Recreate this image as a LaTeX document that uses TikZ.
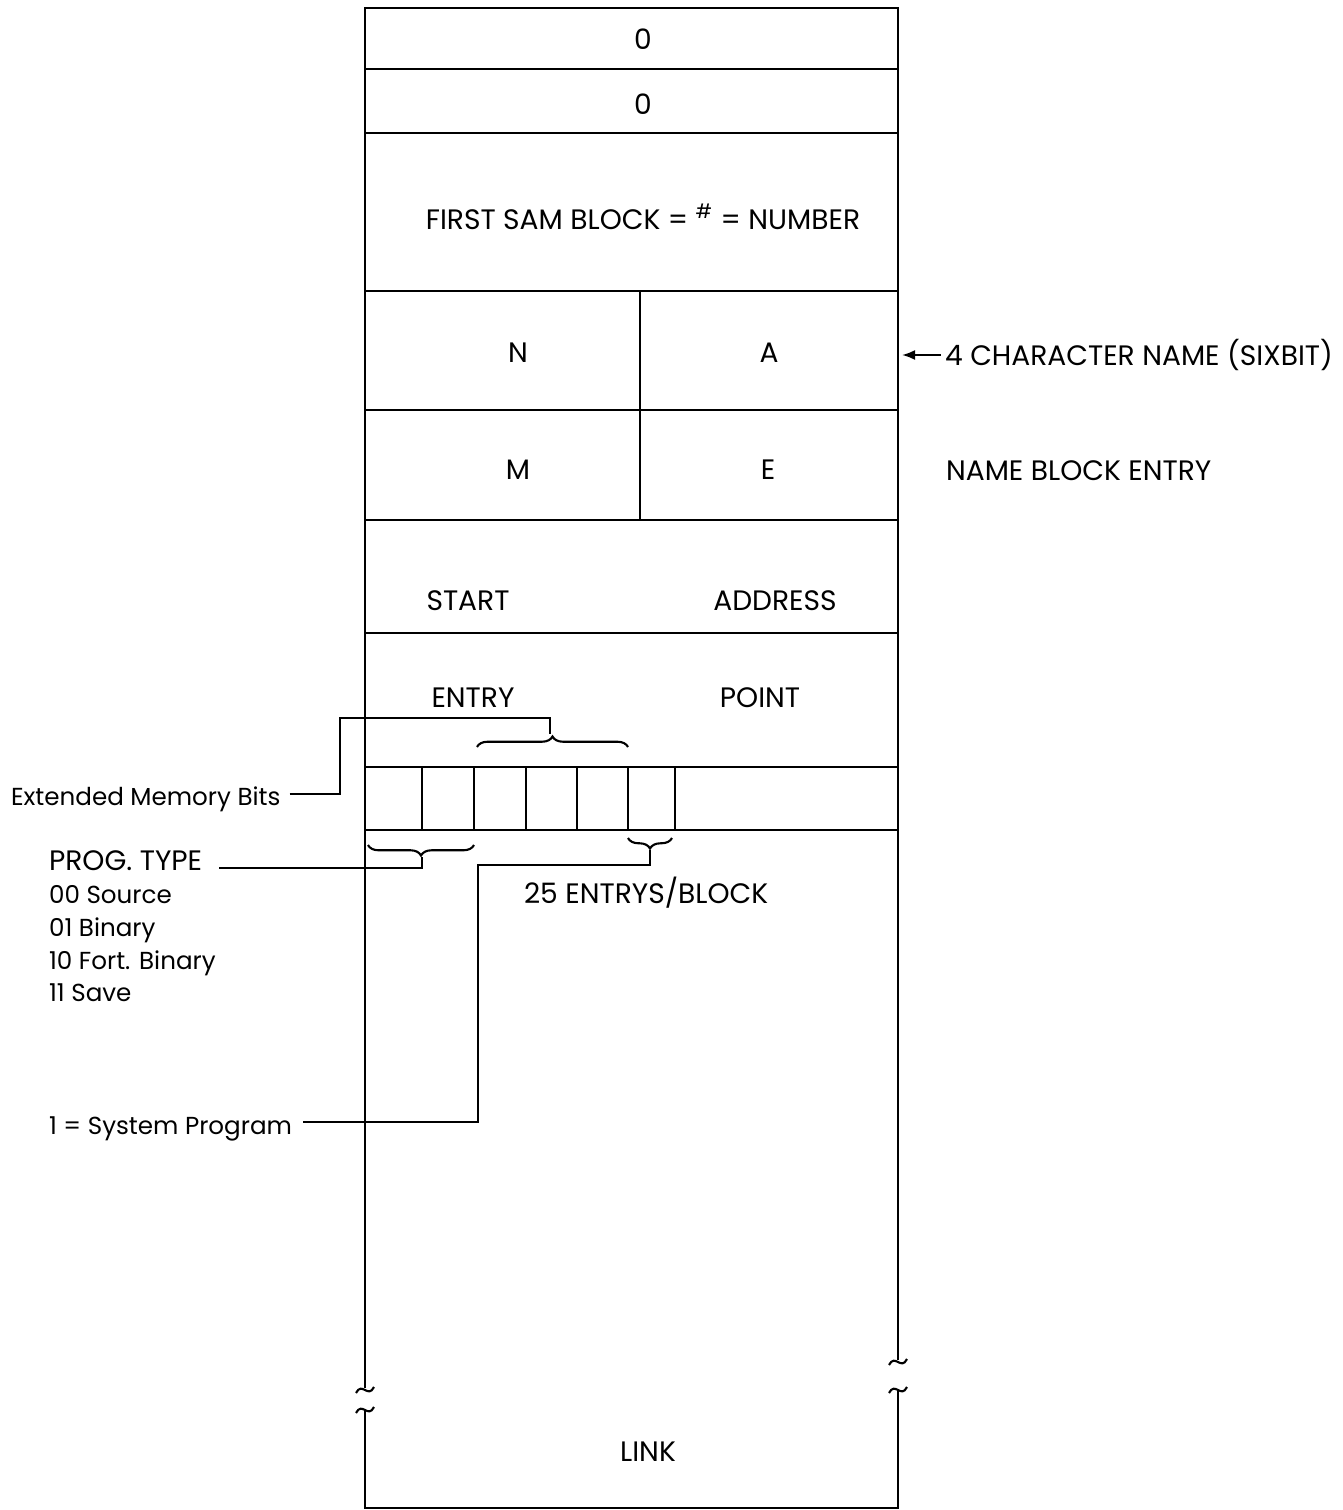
\documentclass[tikz,border=0pt]{standalone}
\usepackage{fontspec}
\setmainfont{Poppins}
\usetikzlibrary{decorations.pathreplacing, arrows.meta}

\begin{document}
\begin{tikzpicture}[x=0.02cm, y=-0.02cm, line width=1.2pt,
  txt/.style={font=\fontsize{16}{19}\selectfont, inner sep=0pt, anchor=base},
  wtxt/.style={txt, anchor=base west},
  stxt/.style={wtxt, font=\fontsize{14}{17}\selectfont},
  brc/.style={decorate, decoration={brace, amplitude=6pt}}]
\useasboundingbox (0,0) rectangle (1342,1510);

\def\L{365}
\def\R{898}
\def\Mid{640}
\newcommand\brk[2]{\draw (#1-9,#2+3) .. controls (#1-3,#2-9) and (#1+3,#2+9) .. (#1+9,#2-3);}

% outer box, broken near the bottom
\draw (\L,1388) -- (\L,8) -- (\R,8) -- (\R,1360);
\draw (\L,1410) -- (\L,1508) -- (\R,1508) -- (\R,1390);
\brk{\L}{1390}
\brk{\L}{1410}
\brk{\R}{1362}
\brk{\R}{1390}

% words
\foreach \y in {69,133,291,410,520,633,767,830}
  \draw (\L,\y) -- (\R,\y);
\draw (\Mid,291) -- (\Mid,520);

% bit cells
\foreach \x in {422,474,526,577,628,675}
  \draw (\x,767) -- (\x,830);

\node[txt] (zeroA) at (643,50) {0};
\node[txt] (zeroB) at (643,115) {0};
\node[txt] (first) at (643,230) {FIRST SAM BLOCK = \textsuperscript{\#} = NUMBER};
\node[txt] (chN) at (518,362) {N};
\node[txt] (chA) at (769,362) {A};
\node[txt] (chM) at (518,479) {M};
\node[txt] (chE) at (768,479) {E};
\node[txt] (start) at (468,610) {START};
\node[txt] (addr) at (775,610) {ADDRESS};
\node[txt] (entry) at (473,707) {ENTRY};
\node[txt] (point) at (760,707) {POINT};
\node[txt] (link) at (648,1461) {LINK};

\node[wtxt] (chname) at (944,365) {4 CHARACTER NAME (SIXBIT)};
\node[wtxt] (nbe) at (945,480) {NAME BLOCK ENTRY};
\node[stxt] (ext) at (10,805) {Extended Memory Bits};
\node[wtxt] (prog) at (48,870) {PROG. TYPE};
\node[stxt] (src) at (48,903) {00 Source};
\node[stxt] (bin) at (48,936) {01 Binary};
\node[stxt] (fort) at (48,969) {10 Fort. Binary};
\node[stxt] (save) at (48,1001) {11 Save};
\node[wtxt] (perblk) at (523,903) {25 ENTRYS/BLOCK};
\node[stxt] (sys) at (48,1134) {1 = System Program};

% arrow to the name words
\draw[-{Latex[length=2.6mm,width=2mm]}] ([xshift=-2pt]chname.west |- 0,355) -- (\R+4,355);

% braces over and under the bits
\draw[brc] (477,747) -- (628,747);
\draw[brc] (474,845) -- (368,845);
\draw[brc] (672,838) -- (628,838);
\coordinate (extTip) at (550,734);
\coordinate (progTip) at (422,857);
\coordinate (sysTip) at (650,850);

\draw (ext.east |- 0,794) ++(8,0) -- (340,794) -- (340,718) -- (550,718) -- (extTip);
\draw (prog.east |- 0,868) ++(16,0) -- (422,868) -- (progTip);
\draw (sys.east |- 0,1122) ++(10,0) -- (478,1122) -- (478,865) -- (650,865) -- (sysTip);
\end{tikzpicture}
\end{document}
